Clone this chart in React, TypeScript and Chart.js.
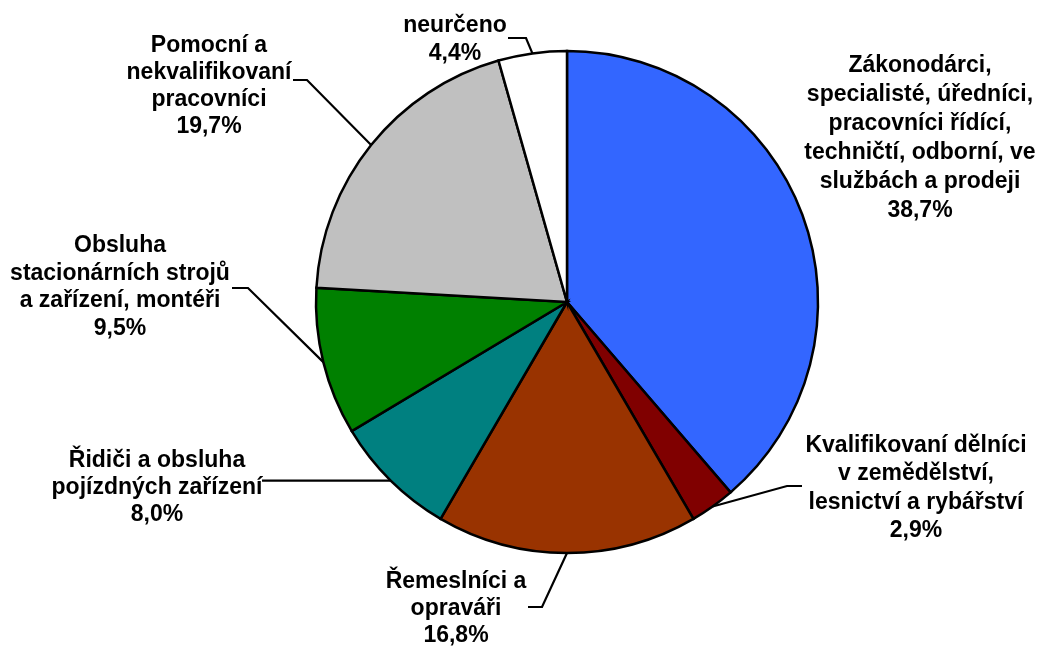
import React, { useEffect, useRef } from "react";
import { Chart, registerables } from "chart.js";

Chart.register(...registerables);

const categories: string[][] = [
  ["Zákonodárci,", "specialisté, úředníci,", "pracovníci řídící,", "techničtí, odborní, ve", "službách a prodeji"],
  ["Kvalifikovaní dělníci", "v zemědělství,", "lesnictví a rybářství"],
  ["Řemeslníci a", "opraváři"],
  ["Řidiči a obsluha", "pojízdných zařízení"],
  ["Obsluha", "stacionárních strojů", "a zařízení, montéři"],
  ["Pomocní a", "nekvalifikovaní", "pracovníci"],
  ["neurčeno"],
];
const values: number[] = [38.7, 2.9, 16.8, 8.0, 9.5, 19.7, 4.4];
const valueLabels: string[] = ["38,7%", "2,9%", "16,8%", "8,0%", "9,5%", "19,7%", "4,4%"];
const colors: string[] = ["#3366FF", "#800000", "#993300", "#008080", "#008000", "#C0C0C0", "#FFFFFF"];

// label layout: center x, first baseline, line spacing, leader path points (from arc anchor)
const labelX: number[] = [920, 916, 456, 157, 120, 209, 455];
const labelY: number[] = [72, 452, 588, 467, 252, 52, 32];
const labelSpacing: number[] = [29, 28.3, 27, 27, 27.7, 27, 28];
const leaderPaths: number[][][] = [
  [],
  [[787, 486], [802, 486]],
  [[542, 607], [528, 607]],
  [[262, -1]],
  [[248, 288], [232, 288]],
  [[307, 80], [293, 80]],
  [[526, 38], [508, 38]],
];

const labelPlugin = {
  id: "pieLabels",
  afterDraw(chart: any) {
    const ctx = chart.ctx as CanvasRenderingContext2D;
    const meta = chart.getDatasetMeta(0);
    ctx.save();
    ctx.strokeStyle = "#000";
    ctx.lineWidth = 2.2;
    ctx.lineJoin = "miter";
    meta.data.forEach((arc: any, i: number) => {
      const p = arc.getProps(["x", "y", "startAngle", "endAngle", "outerRadius"], true);
      const mid = (p.startAngle + p.endAngle) / 2;
      const ax = p.x + Math.cos(mid) * p.outerRadius;
      const ay = p.y + Math.sin(mid) * p.outerRadius;
      const path = leaderPaths[i];
      if (path.length) {
        ctx.beginPath();
        ctx.moveTo(ax, ay);
        path.forEach(([px, py]) => ctx.lineTo(px, py < 0 ? ay : py));
        ctx.stroke();
      }
    });
    ctx.fillStyle = "#000";
    ctx.font = "bold 23px 'Liberation Sans', Arial, sans-serif";
    ctx.textAlign = "center";
    ctx.textBaseline = "alphabetic";
    categories.forEach((lines, i) => {
      const all = [...lines, valueLabels[i]];
      all.forEach((t, k) => {
        ctx.fillText(t, labelX[i], labelY[i] + k * labelSpacing[i]);
      });
    });
    ctx.restore();
  },
};

export default function App() {
  const ref = useRef<HTMLCanvasElement>(null);
  useEffect(() => {
    if (!ref.current) return;
    const chart = new Chart(ref.current, {
      type: "pie",
      data: {
        labels: categories.map((c) => c.join(" ")),
        datasets: [
          {
            data: values,
            backgroundColor: colors,
            borderColor: "#000000",
            borderWidth: 2.5,
            borderJoinStyle: "miter",
            radius: 251,
          } as any,
        ],
      },
      options: {
        animation: false,
        responsive: false,
        devicePixelRatio: 1,
        layout: { padding: { left: 95, right: 0, top: 0, bottom: 44 } },
        plugins: { legend: { display: false }, tooltip: { enabled: false } },
      },
      plugins: [labelPlugin],
    });
    return () => chart.destroy();
  }, []);
  return (
    <div style={{ position: "absolute", left: 0, top: 0, width: 1039, height: 648, background: "#fff" }}>
      <canvas ref={ref} width={1039} height={648} style={{ display: "block" }} />
    </div>
  );
}
